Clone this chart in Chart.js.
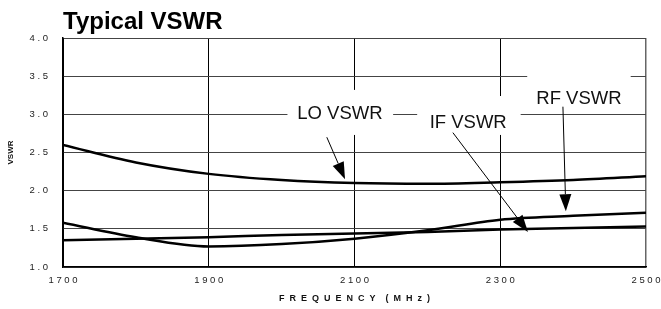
<!DOCTYPE html>
<html>
<head>
<meta charset="utf-8">
<script src="https://cdn.jsdelivr.net/npm/chart.js@4/dist/chart.umd.min.js"></script>
<style>
  html, body { margin: 0; padding: 0; background: #fff; }
  canvas { display: block; }
</style>
</head>
<body>
<canvas id="myChart" width="661" height="309"></canvas>
<script>
// values
const freqs = [1700, 1800, 1900, 2000, 2100, 2200, 2300, 2400, 2500];
const loVswr = [2.60, 2.37, 2.22, 2.14, 2.10, 2.09, 2.11, 2.14, 2.19];
const ifVswr = [1.35, 1.37, 1.39, 1.42, 1.44, 1.46, 1.49, 1.51, 1.53];
const rfVswr = [1.58, 1.39, 1.27, 1.30, 1.37, 1.48, 1.62, 1.67, 1.71];

// callout labels (in chart units: MHz, VSWR)
const calloutText = ['LO VSWR', 'IF VSWR', 'RF VSWR'];
const calloutAt = [[2080, 3.0], [2256, 2.89], [2408, 3.2]];
const calloutBox = [[2008, 2153, 3.32, 2.73], [2186, 2328, 3.24, 2.73], [2337, 2479, 3.58, 3.12]];
const arrowFrom = [[2062, 2.70], [2235, 2.76], [2386, 3.10]];
const arrowTo = [[2087, 2.15], [2338, 1.46], [2390, 1.73]];

const pts = (ys) => freqs.map((f, i) => ({ x: f, y: ys[i] }));
const spaced = (s) => s.split('').join(' ');

const callouts = {
    id: 'callouts',
    beforeDatasetsDraw(chart) {
        const { ctx, scales: { x, y } } = chart;
        ctx.save();
        ctx.fillStyle = '#fff';
        calloutBox.forEach(b => {
            const l = x.getPixelForValue(b[0]), r = x.getPixelForValue(b[1]);
            const t = y.getPixelForValue(b[2]), btm = y.getPixelForValue(b[3]);
            ctx.fillRect(l, t, r - l, btm - t);
        });
        ctx.restore();
    },
    afterDatasetsDraw(chart) {
        const { ctx, scales: { x, y } } = chart;
        ctx.save();
        ctx.fillStyle = '#111';
        ctx.font = '18.5px "Liberation Sans", Arial, sans-serif';
        ctx.textAlign = 'center';
        ctx.textBaseline = 'middle';
        calloutText.forEach((txt, i) => {
            ctx.fillText(txt, x.getPixelForValue(calloutAt[i][0]), y.getPixelForValue(calloutAt[i][1]));
        });
        // arrows
        ctx.strokeStyle = '#000';
        ctx.fillStyle = '#000';
        ctx.lineWidth = 1;
        arrowFrom.forEach((a, i) => {
            const x0 = x.getPixelForValue(a[0]), y0 = y.getPixelForValue(a[1]);
            const x1 = x.getPixelForValue(arrowTo[i][0]), y1 = y.getPixelForValue(arrowTo[i][1]);
            const ang = Math.atan2(y1 - y0, x1 - x0);
            const len = 17, hw = 6;
            const bx = x1 - len * Math.cos(ang), by = y1 - len * Math.sin(ang);
            ctx.beginPath();
            ctx.moveTo(x0, y0);
            ctx.lineTo(bx, by);
            ctx.stroke();
            ctx.beginPath();
            ctx.moveTo(x1, y1);
            ctx.lineTo(bx + hw * Math.sin(ang), by - hw * Math.cos(ang));
            ctx.lineTo(bx - hw * Math.sin(ang), by + hw * Math.cos(ang));
            ctx.closePath();
            ctx.fill();
        });
        ctx.restore();
    },
    afterDraw(chart) {
        const ctx = chart.ctx;
        ctx.save();
        ctx.fillStyle = '#000';
        ctx.font = 'bold 24px "Liberation Sans", Arial, sans-serif';
        ctx.textAlign = 'left';
        ctx.textBaseline = 'alphabetic';
        ctx.fillText('Typical VSWR', chart.chartArea.left, 29);
        ctx.restore();
    }
};

const line = (data) => ({
    data: data,
    borderColor: '#000',
    borderWidth: 2.5,
    pointRadius: 0,
    tension: 0.4,
    cubicInterpolationMode: 'monotone',
    fill: false
});

let ctx = document.getElementById('myChart').getContext('2d');
let chartJS = new Chart(ctx, {
    type: 'line',
    data: {
        datasets: [line(pts(loVswr)), line(pts(ifVswr)), line(pts(rfVswr))]
    },
    options: {
        responsive: false,
        animation: false,
        devicePixelRatio: 1,
        layout: { padding: { left: 6, right: 15, top: 38, bottom: 0 } },
        plugins: { legend: { display: false }, tooltip: { enabled: false } },
        scales: {
            x: {
                type: 'linear',
                min: 1700,
                max: 2500,
                ticks: {
                    stepSize: 200,
                    color: '#222',
                    padding: 8,
                    font: { size: 9.5, family: '"Liberation Sans", Arial' },
                    callback: (v) => spaced(String(v))
                },
                grid: {
                    drawTicks: false,
                    color: (c) => c.tick && c.tick.value === 2500 ? '#666' : '#000',
                    lineWidth: (c) => c.tick && c.tick.value === 2500 ? 1.5 : 1
                },
                border: { color: '#000', width: 1.5 },
                title: {
                    display: true,
                    text: 'F  R  E  Q  U  E  N  C  Y    (  M  H  z  )',
                    color: '#111',
                    font: { size: 9, weight: 'bold', family: '"Liberation Sans", Arial' },
                    padding: { top: 4, bottom: 5 }
                },
                afterFit: (s) => { s.height = 42; s.paddingLeft = 0; s.paddingRight = 0; }
            },
            y: {
                min: 1,
                max: 4,
                ticks: {
                    stepSize: 0.5,
                    color: '#222',
                    padding: 15,
                    font: { size: 9.5, family: '"Liberation Sans", Arial' },
                    callback: (v) => spaced(v.toFixed(1))
                },
                grid: { drawTicks: false, color: '#444', lineWidth: 1 },
                border: { color: '#000', width: 1.5 },
                title: {
                    display: true,
                    text: 'VSWR',
                    color: '#111',
                    font: { size: 8, weight: 'bold', family: '"Liberation Sans", Arial' },
                    padding: 0
                },
                afterFit: (s) => { s.width = 57; s.paddingTop = 0; s.paddingBottom = 0; }
            }
        }
    },
    plugins: [callouts]
});
</script>
</body>
</html>
